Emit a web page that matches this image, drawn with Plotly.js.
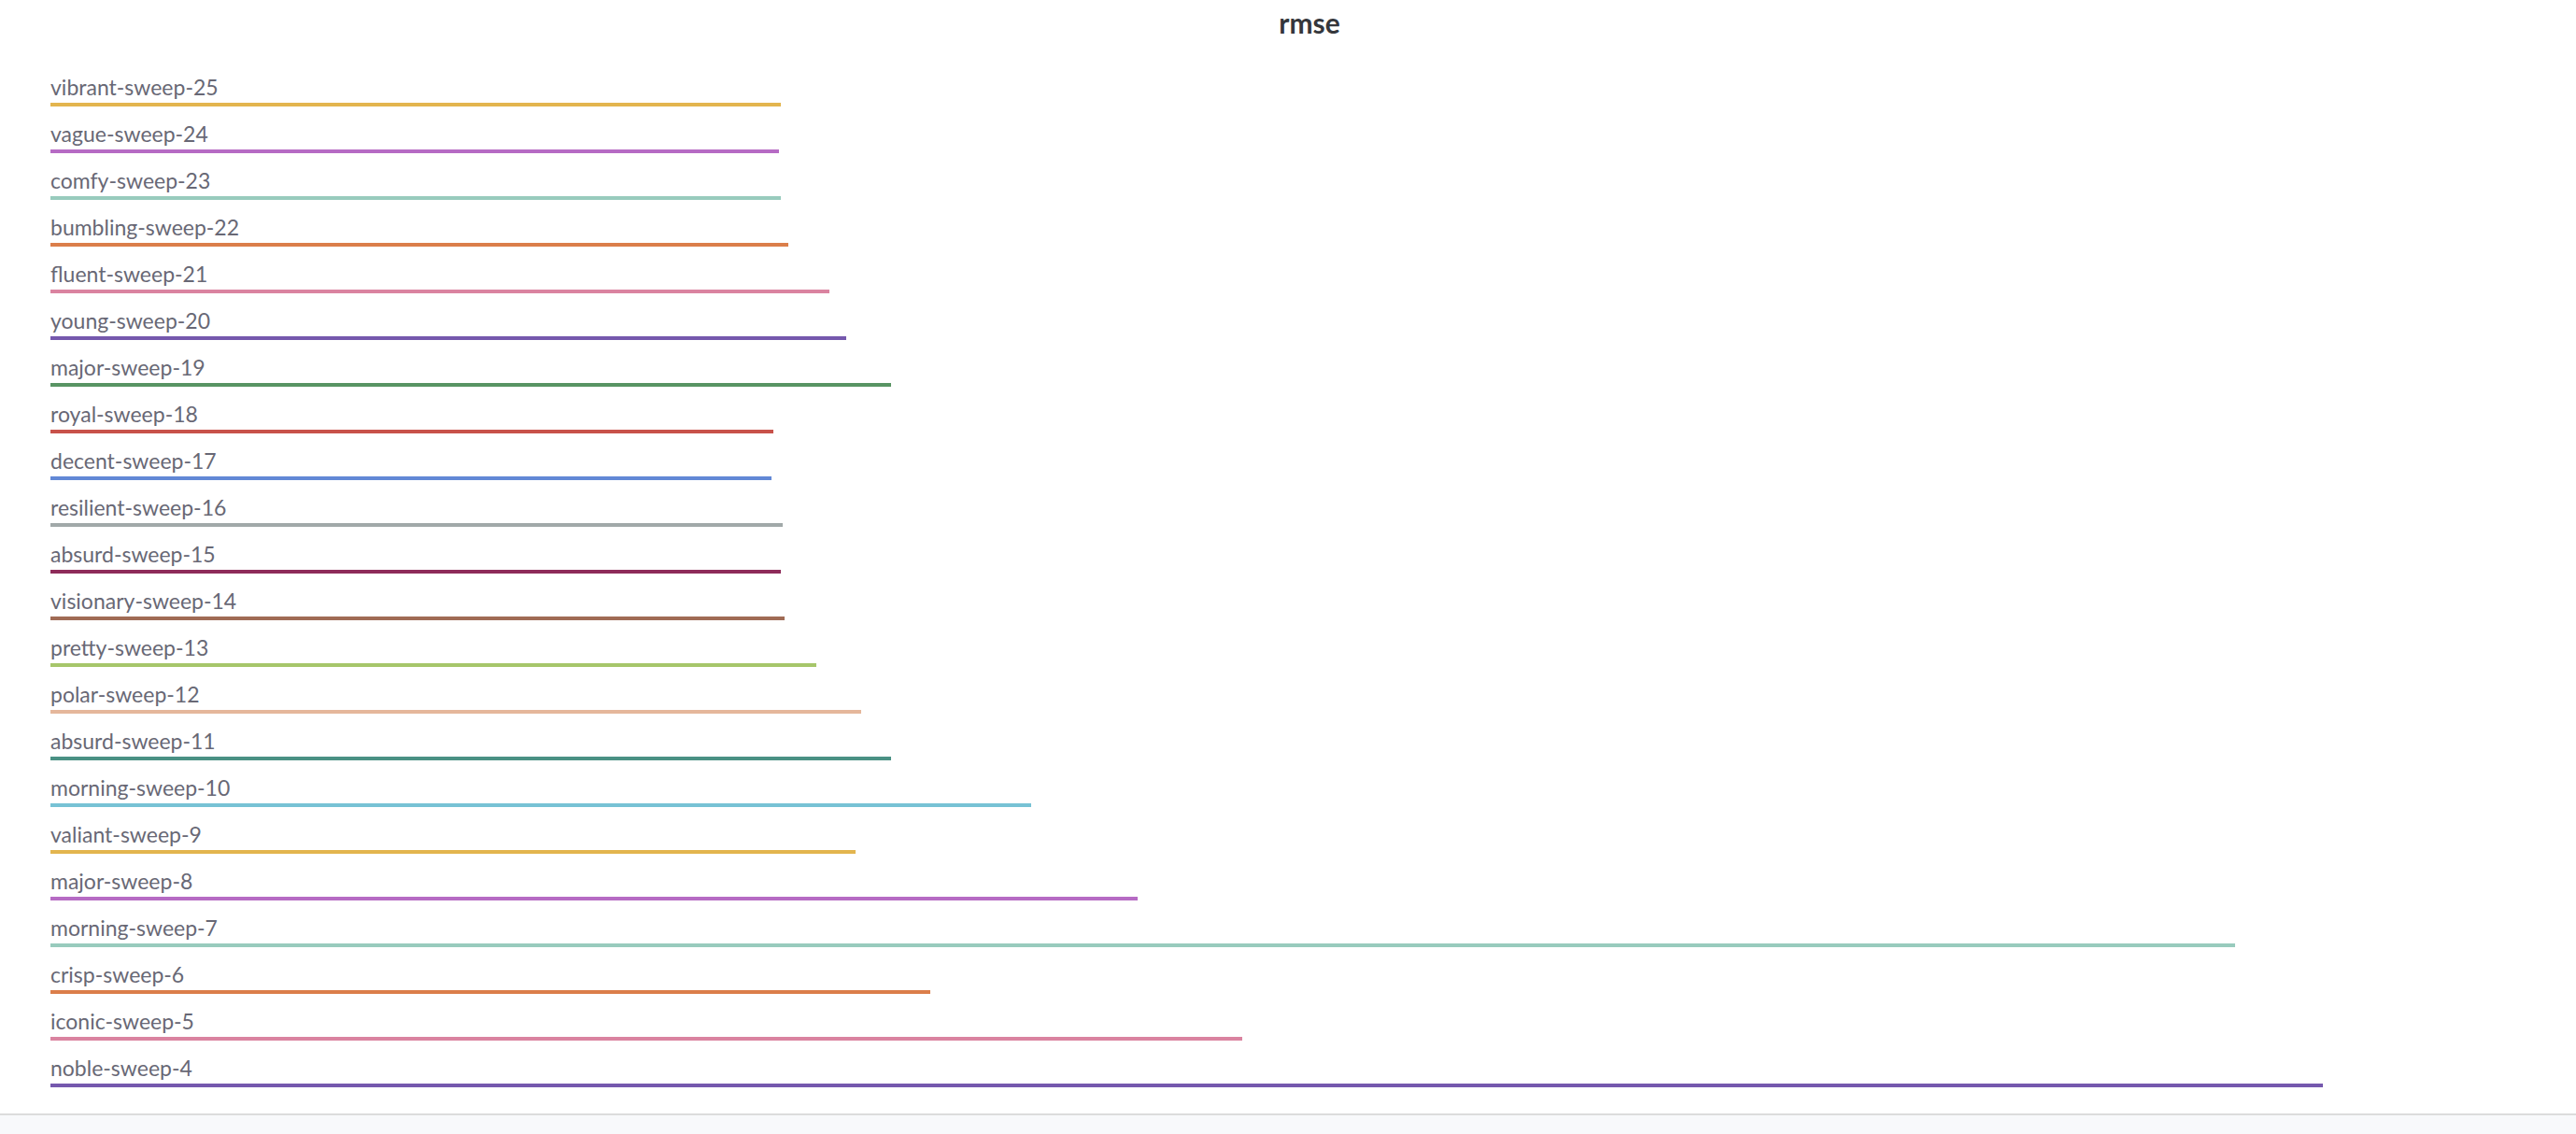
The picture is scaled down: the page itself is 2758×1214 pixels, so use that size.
<!DOCTYPE html>
<html>
<head>
<meta charset="utf-8">
<script src="https://cdn.plot.ly/plotly-3.0.1.min.js"></script>
<style>
  html, body { margin: 0; padding: 0; background: #f8f9fb; }
  #chart { width: 2758px; height: 1192px; background: #ffffff; border-bottom: 2px solid #dcdcdc; }
</style>
</head>
<body>
<div id="chart"></div>
<script>
// Run names (top to bottom)
const runs = [
  "vibrant-sweep-25", "vague-sweep-24", "comfy-sweep-23", "bumbling-sweep-22",
  "fluent-sweep-21", "young-sweep-20", "major-sweep-19", "royal-sweep-18",
  "decent-sweep-17", "resilient-sweep-16", "absurd-sweep-15", "visionary-sweep-14",
  "pretty-sweep-13", "polar-sweep-12", "absurd-sweep-11", "morning-sweep-10",
  "valiant-sweep-9", "major-sweep-8", "morning-sweep-7", "crisp-sweep-6",
  "iconic-sweep-5", "noble-sweep-4"
];
// rmse values
const rmse = [
  0.4352, 0.4341, 0.4352, 0.4396,
  0.4641, 0.4741, 0.5008, 0.4307,
  0.4296, 0.4363, 0.4352, 0.4374,
  0.4563, 0.4830, 0.5008, 0.5843,
  0.4797, 0.6477, 1.3011, 0.5242,
  0.7101, 1.3534
];
// run colours
const runColors = [
  "#e3b54e", "#b66bc4", "#98cbbd", "#db7e4a",
  "#da83a0", "#7558ad", "#589463", "#c8524a",
  "#6288d6", "#a1a9a9", "#8e2b5a", "#a06b55",
  "#a6c66a", "#e5b79b", "#4a9184", "#77c2d5",
  "#e3b54e", "#b66bc4", "#98cbbd", "#db7e4a",
  "#da83a0", "#7558ad"
];
const chartTitle = "rmse";

const trace = {
  type: "bar",
  orientation: "h",
  x: rmse,
  y: runs,
  width: 0.08,
  marker: { color: runColors, line: { width: 0 } },
  hoverinfo: "x+y"
};

const annotations = runs.map(function (name) {
  return {
    text: name,
    xref: "paper", x: 0, xanchor: "left",
    yref: "y", y: name, yanchor: "bottom",
    yshift: 3, xshift: -2,
    showarrow: false,
    font: { family: "Lato, 'Source Sans Pro', sans-serif", size: 23, color: "#686875" }
  };
});

const layout = {
  width: 2758,
  height: 1192,
  paper_bgcolor: "#ffffff",
  plot_bgcolor: "#ffffff",
  margin: { l: 54, r: 8, t: 87, b: 5 },
  title: {
    text: chartTitle,
    xref: "container", x: 1402 / 2758, xanchor: "center",
    yref: "container", y: 1 - 25 / 1192, yanchor: "middle",
    font: { family: "Lato, 'Source Sans Pro', sans-serif", size: 30, color: "#35373c", weight: 700 }
  },
  showlegend: false,
  bargap: 0,
  xaxis: {
    range: [0, 1.5],
    showgrid: false, zeroline: false, showticklabels: false, showline: false, ticks: ""
  },
  yaxis: {
    type: "category",
    range: [21.5, -0.5],
    showgrid: false, zeroline: false, showticklabels: false, showline: false, ticks: ""
  },
  annotations: annotations
};

Plotly.newPlot("chart", [trace], layout, { displayModeBar: false, staticPlot: true });
</script>
</body>
</html>
